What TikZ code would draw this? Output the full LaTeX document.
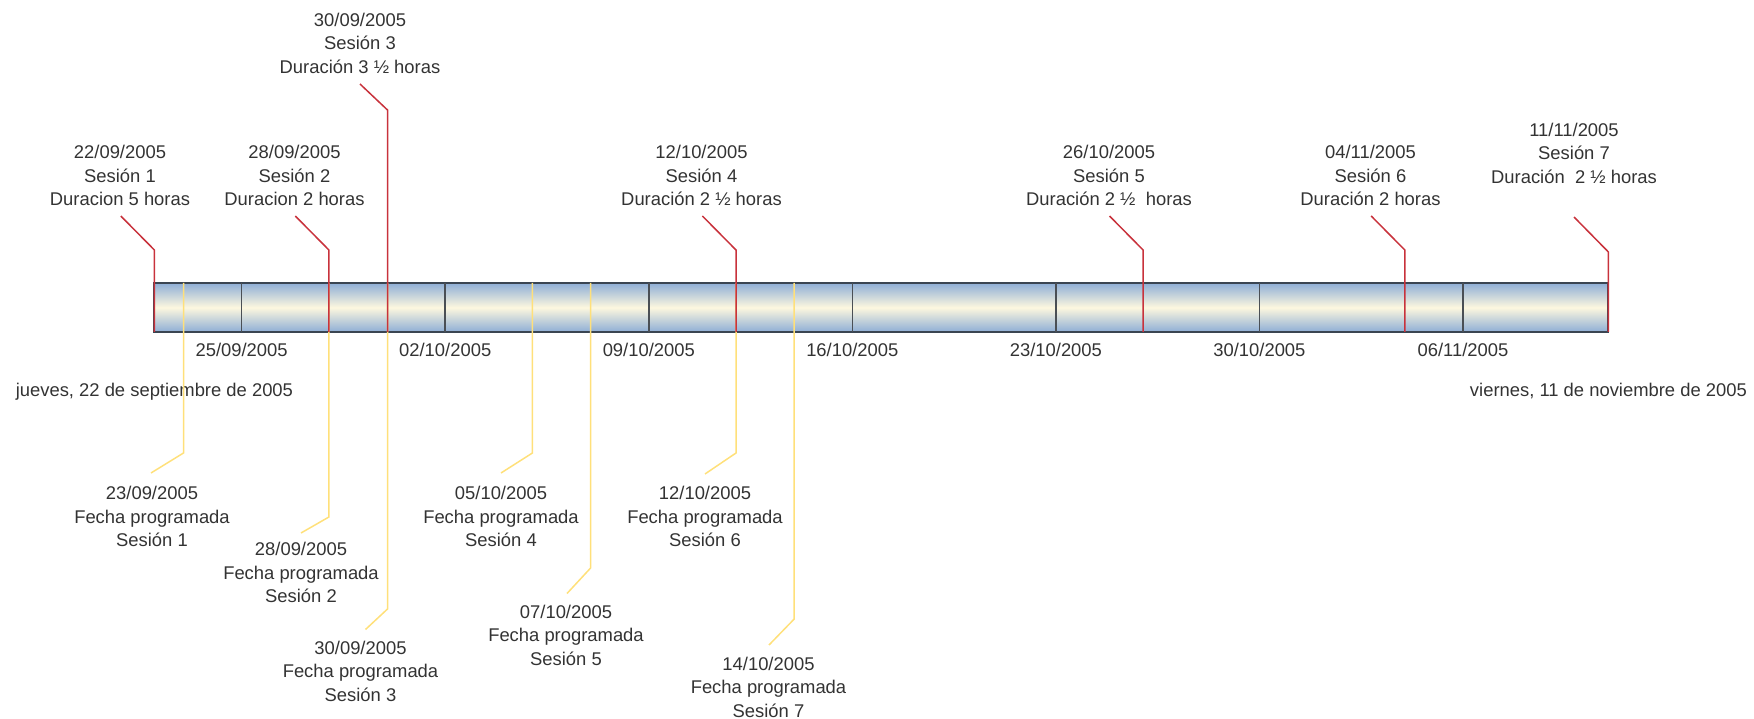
\documentclass[tikz,border=0pt]{standalone}
\usepackage{fontspec}
\setmainfont{Liberation Sans}
\definecolor{barblue}{HTML}{8EAED6}
\definecolor{barcream}{HTML}{FDF8DF}
\definecolor{barline}{HTML}{3A4552}
\definecolor{tickgray}{HTML}{4A4F55}
\definecolor{sesred}{HTML}{C8323C}
\definecolor{planyellow}{HTML}{FFE07A}
\definecolor{txtgray}{HTML}{333333}
\tikzstyle{timebar} = [rectangle, draw=barline, line width=2pt,
  top color=barblue, bottom color=barblue, middle color=barcream,
  minimum width=1454pt, minimum height=49pt, inner sep=0pt]
\tikzstyle{weektick} = [draw=tickgray, line width=1.5pt]
\tikzstyle{session} = [draw=sesred, line width=1.5pt]
\tikzstyle{planned} = [draw=planyellow, line width=1.5pt]
\tikzstyle{lbl} = [text=txtgray, align=center, inner sep=0pt,
  font=\fontsize{18.4}{23.5}\selectfont]

\begin{document}
\begin{tikzpicture}[x=1pt, y=-1pt]
\useasboundingbox (0,0) rectangle (1754,719);

%% ---- BAR ----
\node (bar) [timebar] at (881.4, 307.5) {};

%% ---- WEEK TICKS ----
\coordinate (w1) at (241.6, 283);  \coordinate (w1b) at (241.6, 332);
\coordinate (w2) at (445.2, 283);  \coordinate (w2b) at (445.2, 332);
\coordinate (w3) at (648.8, 283);  \coordinate (w3b) at (648.8, 332);
\coordinate (w4) at (852.3, 283);  \coordinate (w4b) at (852.3, 332);
\coordinate (w5) at (1055.9, 283); \coordinate (w5b) at (1055.9, 332);
\coordinate (w6) at (1259.4, 283); \coordinate (w6b) at (1259.4, 332);
\coordinate (w7) at (1463.0, 283); \coordinate (w7b) at (1463.0, 332);

\draw [weektick] (w1) -- (w1b);
\draw [weektick] (w2) -- (w2b);
\draw [weektick] (w3) -- (w3b);
\draw [weektick] (w4) -- (w4b);
\draw [weektick] (w5) -- (w5b);
\draw [weektick] (w6) -- (w6b);
\draw [weektick] (w7) -- (w7b);

\node (wl1) [lbl] at (241.6, 350) {25/09/2005};
\node (wl2) [lbl] at (445.2, 350) {02/10/2005};
\node (wl3) [lbl] at (648.8, 350) {09/10/2005};
\node (wl4) [lbl] at (852.3, 350) {16/10/2005};
\node (wl5) [lbl] at (1055.9, 350) {23/10/2005};
\node (wl6) [lbl] at (1259.4, 350) {30/10/2005};
\node (wl7) [lbl] at (1463.0, 350) {06/11/2005};

\node (start) [lbl] at (154.4, 391.5) {jueves, 22 de septiembre de 2005};
\node (finish) [lbl] at (1608.4, 391.5) {viernes, 11 de noviembre de 2005};

%%=============================================================
%% PLANNED DATES (below the bar)
%%=============================================================
\coordinate (p1top) at (183.5, 283); \coordinate (p1bend) at (183.5, 453);
\coordinate (p1end) at (151, 473);
\coordinate (p2top) at (328.9, 283); \coordinate (p2bend) at (328.9, 517);
\coordinate (p2end) at (301, 533);
\coordinate (p3top) at (387.5, 283); \coordinate (p3bend) at (387.5, 609);
\coordinate (p3end) at (365.5, 629.5);
\coordinate (p4top) at (532.4, 283); \coordinate (p4bend) at (532.4, 453);
\coordinate (p4end) at (501, 473);
\coordinate (p5top) at (590.6, 283); \coordinate (p5bend) at (590.6, 568);
\coordinate (p5end) at (567, 593.5);
\coordinate (p6top) at (736, 283);   \coordinate (p6bend) at (736, 453);
\coordinate (p6end) at (705, 474);
\coordinate (p7top) at (794.2, 283); \coordinate (p7bend) at (794.2, 619);
\coordinate (p7end) at (769, 645);

\draw [planned] (p1top) -- (p1bend) -- (p1end);
\draw [planned] (p2top) -- (p2bend) -- (p2end);
\draw [planned] (p3top) -- (p3bend) -- (p3end);
\draw [planned] (p4top) -- (p4bend) -- (p4end);
\draw [planned] (p5top) -- (p5bend) -- (p5end);
\draw [planned] (p6top) -- (p6bend) -- (p6end);
\draw [planned] (p7top) -- (p7bend) -- (p7end);

\node (pl1) [lbl] at (152, 516.5) {23/09/2005\\Fecha programada\\Sesión 1};
\node (pl2) [lbl] at (301, 572.7) {28/09/2005\\Fecha programada\\Sesión 2};
\node (pl3) [lbl] at (360.5, 671) {30/09/2005\\Fecha programada\\Sesión 3};
\node (pl4) [lbl] at (501, 516.5) {05/10/2005\\Fecha programada\\Sesión 4};
\node (pl5) [lbl] at (566, 635.4) {07/10/2005\\Fecha programada\\Sesión 5};
\node (pl6) [lbl] at (705, 516.5) {12/10/2005\\Fecha programada\\Sesión 6};
\node (pl7) [lbl] at (768.5, 687) {14/10/2005\\Fecha programada\\Sesión 7};

%%=============================================================
%% HELD SESSIONS (above the bar)
%%=============================================================
\coordinate (s1bar) at (154.4, 332);  \coordinate (s1bend) at (154.4, 250);
\coordinate (s1end) at (120.8, 216);
\coordinate (s2bar) at (328.9, 332);  \coordinate (s2bend) at (328.9, 250);
\coordinate (s2end) at (295.3, 216);
\coordinate (s3bar) at (387.5, 332);  \coordinate (s3bend) at (387.5, 110);
\coordinate (s3end) at (360, 84);
\coordinate (s4bar) at (736, 332);    \coordinate (s4bend) at (736, 250);
\coordinate (s4end) at (702.4, 216);
\coordinate (s5bar) at (1143.1, 332); \coordinate (s5bend) at (1143.1, 250);
\coordinate (s5end) at (1109.5, 216);
\coordinate (s6bar) at (1404.8, 332); \coordinate (s6bend) at (1404.8, 250);
\coordinate (s6end) at (1371.2, 216);
\coordinate (s7bar) at (1608.4, 332); \coordinate (s7bend) at (1608.4, 252);
\coordinate (s7end) at (1574, 217);

\draw [session] (s1bar) -- (s1bend) -- (s1end);
\draw [session] (s2bar) -- (s2bend) -- (s2end);
\draw [session] (s3bar) -- (s3bend) -- (s3end);
\draw [session] (s4bar) -- (s4bend) -- (s4end);
\draw [session] (s5bar) -- (s5bend) -- (s5end);
\draw [session] (s6bar) -- (s6bend) -- (s6end);
\draw [session] (s7bar) -- (s7bend) -- (s7end);

\node (sl1) [lbl] at (120, 175.6) {22/09/2005\\Sesión 1\\Duracion 5 horas};
\node (sl2) [lbl] at (294.5, 175.6) {28/09/2005\\Sesión 2\\Duracion 2 horas};
\node (sl3) [lbl] at (360, 43) {30/09/2005\\Sesión 3\\Duración 3 ½ horas};
\node (sl4) [lbl] at (701.5, 175.6) {12/10/2005\\Sesión 4\\Duración 2 ½ horas};
\node (sl5) [lbl] at (1109, 175.6) {26/10/2005\\Sesión 5\\Duración 2 ½\ \ horas};
\node (sl6) [lbl] at (1370.5, 175.6) {04/11/2005\\Sesión 6\\Duración 2 horas};
\node (sl7) [lbl] at (1574, 153) {11/11/2005\\Sesión 7\\Duración\ \ 2 ½ horas};

\end{tikzpicture}
\end{document}
